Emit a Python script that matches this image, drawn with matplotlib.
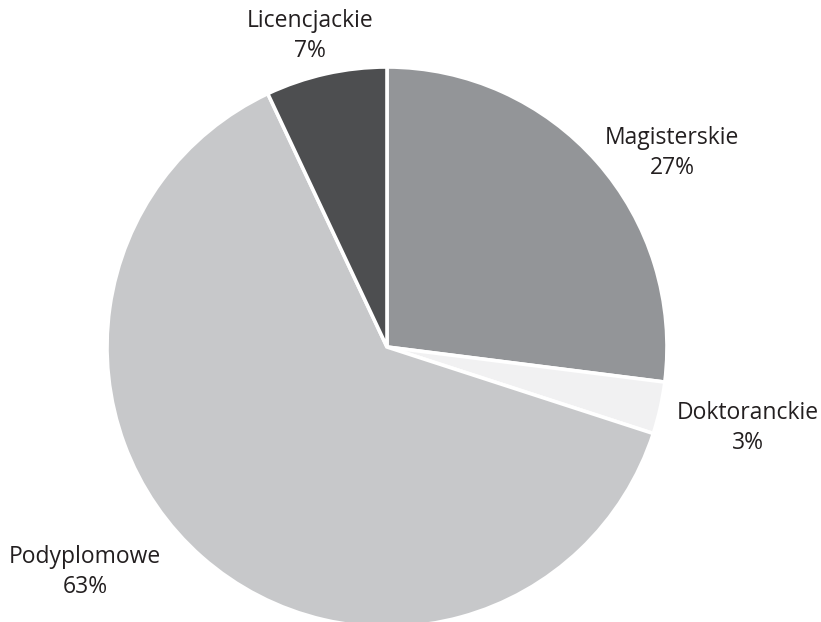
import matplotlib
matplotlib.use("Agg")
import matplotlib.pyplot as plt

# dane
labels = ["Magisterskie", "Doktoranckie", "Podyplomowe", "Licencjackie"]
values = [27, 3, 63, 7]
colors = ["#939598", "#f1f1f2", "#c7c8ca", "#4d4e50"]

# pozycje etykiet (piksele, od góry)
label_pos = [(672, 153), (748, 428), (85, 572), (310, 36)]

plt.rcParams['font.family'] = ['Open Sans', 'DejaVu Sans']

fig = plt.figure(figsize=(8.21, 6.22), dpi=100)
ax = fig.add_axes([0, 0, 1, 1])

ax.pie(values, colors=colors, startangle=90, counterclock=False,
       center=(387, 622 - 347), radius=280,
       wedgeprops=dict(edgecolor='white', linewidth=2.6))

ax.set_xlim(0, 821)
ax.set_ylim(0, 622)
ax.set_aspect('equal')
ax.axis('off')

for lab, v, (x, y) in zip(labels, values, label_pos):
    ax.text(x, 622 - y, f"{lab}\n{v}%", ha='center', va='center',
            fontsize=16.5, color='#231f20', linespacing=1.32)

fig.savefig("out.png", dpi=100)
